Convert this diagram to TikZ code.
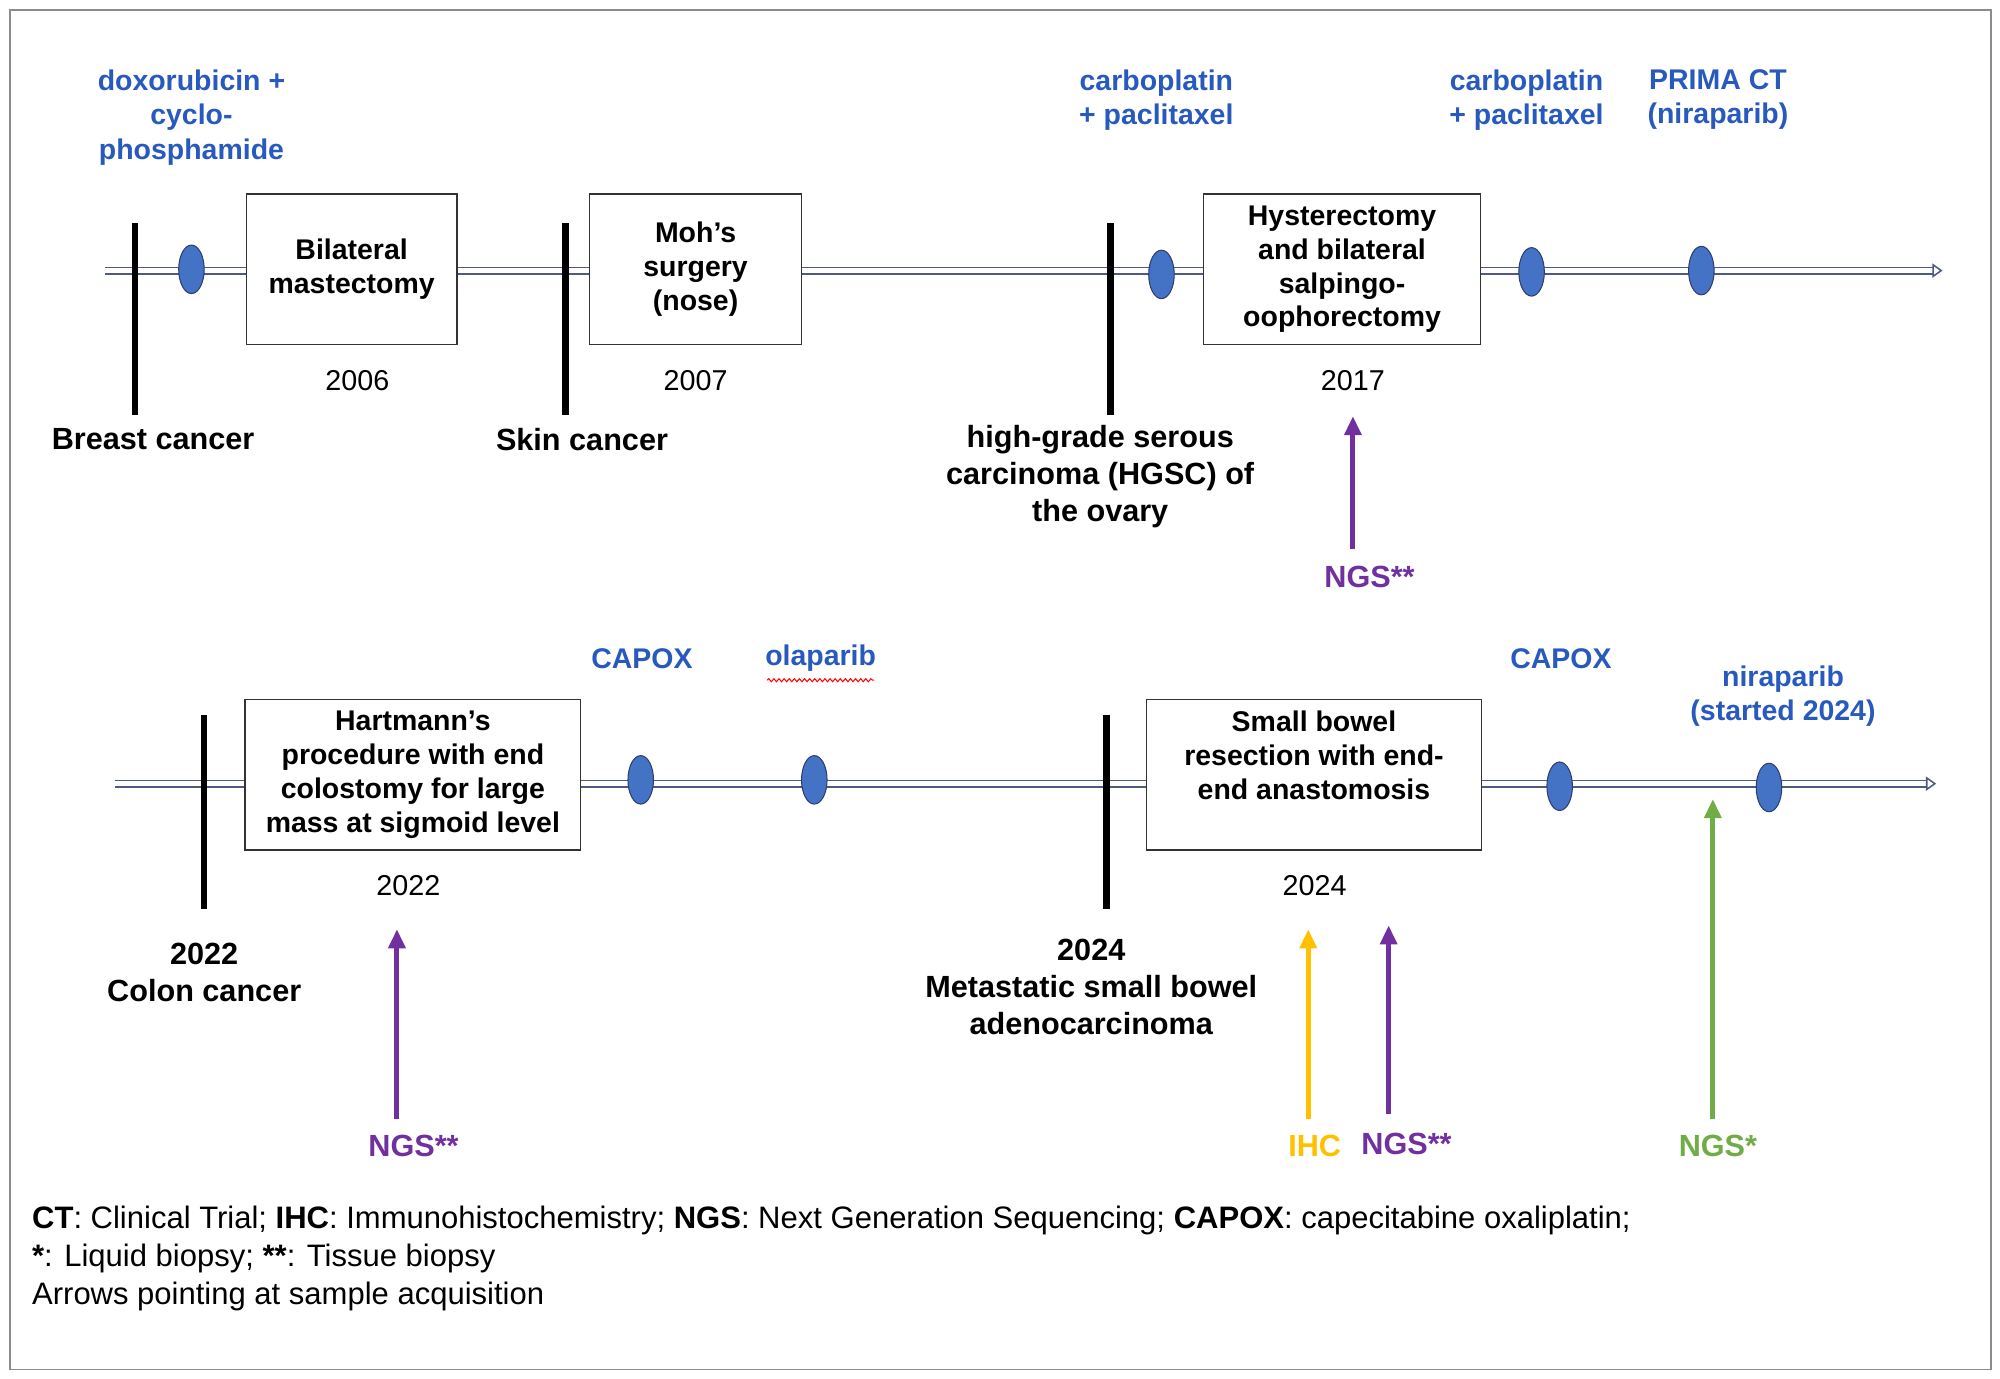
\documentclass[tikz,border=0pt]{standalone}
\usepackage{fontspec}
\setmainfont{Liberation Sans}
\usetikzlibrary{arrows.meta,decorations.pathmorphing,shapes.geometric}
\definecolor{tblue}{RGB}{40,90,190}
\definecolor{tpurple}{RGB}{112,48,160}
\definecolor{tyellow}{RGB}{255,192,0}
\definecolor{tgreen}{RGB}{112,173,71}
\definecolor{efill}{RGB}{68,114,196}
\definecolor{eline}{RGB}{47,60,110}
\tikzset{
 tl/.style={draw=eline!85,line width=1.2pt,double=white,double distance=4pt,-{Triangle[open,width=11pt,length=8pt]}},
 bar/.style={line width=5pt,black},
 ev/.style={ellipse,draw=eline,fill=efill,minimum width=20pt,minimum height=38pt,inner sep=0pt,line width=0.8pt},
 boxn/.style={draw=black!80,line width=1pt,align=center,font=\bfseries\fontsize{22.3}{26.5}\selectfont,inner sep=0pt},
 lab/.style={align=center,font=\bfseries\fontsize{24}{29}\selectfont},
 drug/.style={lab,text=tblue,font=\bfseries\fontsize{22.3}{27}\selectfont},
 yr/.style={font=\fontsize{22.5}{26}\selectfont},
 arr/.style={line width=4pt,-{Triangle[width=13pt,length=15pt]}},
}
\begin{document}
\begin{tikzpicture}[x=1pt,y=-1pt]
\useasboundingbox (0,0) rectangle (1567,1080);
\draw[black!45,line width=1.5pt] (8,8) rectangle (1560,1073);
% row 1
\coordinate (t1s) at (82,212); \coordinate (t1e) at (1522,212);
\draw[tl] (t1s) -- (t1e);
\coordinate (b1a) at (106,175); \coordinate (b1b) at (106,325); \draw[bar] (b1a) -- (b1b);
\coordinate (b2a) at (443,175); \coordinate (b2b) at (443,325); \draw[bar] (b2a) -- (b2b);
\coordinate (b3a) at (870,175); \coordinate (b3b) at (870,325); \draw[bar] (b3a) -- (b3b);
\node[ev] (e1) at (150,211) {};
\node[ev] (e2) at (910,215) {};
\node[ev] (e3) at (1200,213) {};
\node[ev] (e4) at (1333,212) {};
\node[boxn,fill=white,minimum width=165pt,minimum height=118pt] (m1) at (275.5,211) {Bilateral\\mastectomy};
\node[boxn,fill=white,minimum width=166pt,minimum height=118pt] (m2) at (545,211) {Moh’s\\surgery\\(nose)};
\node[boxn,fill=white,minimum width=217pt,minimum height=118pt] (m3) at (1051.5,211) {Hysterectomy\\and bilateral\\salpingo-\\oophorectomy};
\node[yr] (y1) at (280,298) {2006};
\node[yr] (y2) at (545,298) {2007};
\node[yr] (y3) at (1060,298) {2017};
\node[lab] (l1) at (120,344) {Breast cancer};
\node[lab] (l2) at (456,344) {Skin cancer};
\node[lab,anchor=north] (l3) at (862,330) {high-grade serous\\carcinoma (HGSC) of\\the ovary};
\node[drug,anchor=north] (d1) at (150,51) {doxorubicin +\\cyclo-\\phosphamide};
\node[drug,anchor=north] (d2) at (906,51) {carboplatin\\+ paclitaxel};
\node[drug,anchor=north] (d3) at (1196,51) {carboplatin\\+ paclitaxel};
\node[drug,anchor=north] (d4) at (1346,51) {PRIMA CT\\(niraparib)};
\node[lab,text=tpurple] (n1) at (1073,452) {NGS**};
\coordinate (a1s) at (1060,430); \coordinate (a1e) at (1060,326);
\draw[arr,tpurple] (a1s) -- (a1e);
% row 2
\coordinate (t2s) at (90,614); \coordinate (t2e) at (1517,614);
\draw[tl] (t2s) -- (t2e);
\coordinate (c1a) at (160,560); \coordinate (c1b) at (160,712); \draw[bar] (c1a) -- (c1b);
\coordinate (c2a) at (867,560); \coordinate (c2b) at (867,712); \draw[bar] (c2a) -- (c2b);
\node[ev] (f1) at (502,611) {};
\node[ev] (f2) at (638,611) {};
\node[ev] (f3) at (1222,616) {};
\node[ev] (f4) at (1386,617) {};
\node[boxn,fill=white,minimum width=263pt,minimum height=118pt] (p1) at (323.5,607) {Hartmann’s\\procedure with end\\colostomy for large\\mass at sigmoid level};
\node[boxn,fill=white,minimum width=263pt,minimum height=118pt] (p2) at (1029.5,607) {Small bowel\\resection with end-\\end anastomosis\\[4pt]};
\node[yr] (y4) at (320,694) {2022};
\node[yr] (y5) at (1030,694) {2024};
\node[lab,anchor=north] (l4) at (160,735) {2022\\Colon cancer};
\node[lab,anchor=north] (l5) at (855,732) {2024\\Metastatic small bowel\\adenocarcinoma};
\node[drug] (d5) at (503,516) {CAPOX};
\node[drug] (d6) at (643,516) {olaparib};
\draw[red,line width=0.8pt,decorate,decoration={snake,amplitude=1.2pt,segment length=4pt}] ([xshift=5pt,yshift=-3pt]d6.south west) -- ([xshift=-5pt,yshift=-3pt]d6.south east);
\node[drug] (d7) at (1223,516) {CAPOX};
\node[drug,anchor=north] (d8) at (1397,518) {niraparib\\(started 2024)};
\node[lab,text=tpurple] (n2) at (324,898) {NGS**};
\node[lab,text=tyellow] (n3) at (1030,898) {IHC};
\node[lab,text=tpurple] (n4) at (1102,896) {NGS**};
\node[lab,text=tgreen] (n5) at (1346,898) {NGS*};
\coordinate (a2s) at (311,877); \coordinate (a2e) at (311,728);
\draw[arr,tpurple] (a2s) -- (a2e);
\coordinate (a3s) at (1025,877); \coordinate (a3e) at (1025,728);
\draw[arr,tyellow] (a3s) -- (a3e);
\coordinate (a4s) at (1088,873); \coordinate (a4e) at (1088,725);
\draw[arr,tpurple] (a4s) -- (a4e);
\coordinate (a5s) at (1342,877); \coordinate (a5e) at (1342,626);
\draw[arr,tgreen] (a5s) -- (a5e);
% legend
\node[anchor=north west,align=left,font=\fontsize{24.3}{29.5}\selectfont,inner sep=0pt] (leg) at (25,945) {\textbf{CT}: Clinical Trial; \textbf{IHC}: Immunohistochemistry; \textbf{NGS}: Next Generation Sequencing; \textbf{CAPOX}: capecitabine oxaliplatin;\\\textbf{*}: Liquid biopsy; \textbf{**}: Tissue biopsy\\Arrows pointing at sample acquisition};
\end{tikzpicture}
\end{document}
